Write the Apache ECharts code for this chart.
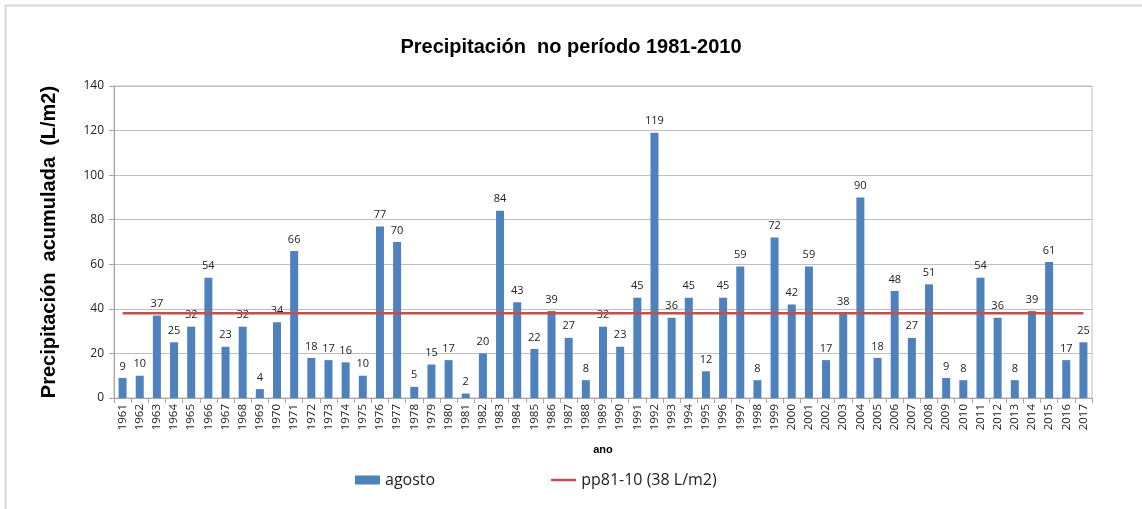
<!DOCTYPE html>
<html>
<head>
<meta charset="utf-8">
<script src="https://cdn.jsdelivr.net/npm/echarts@6/dist/echarts.min.js"></script>
<style>html,body{margin:0;padding:0;background:#fff}#c{width:1142px;height:509px}</style>
</head>
<body>
<div id="c"></div>
<script>
const years = ['1961','1962','1963','1964','1965','1966','1967','1968','1969','1970','1971','1972','1973','1974','1975','1976','1977','1978','1979','1980','1981','1982','1983','1984','1985','1986','1987','1988','1989','1990','1991','1992','1993','1994','1995','1996','1997','1998','1999','2000','2001','2002','2003','2004','2005','2006','2007','2008','2009','2010','2011','2012','2013','2014','2015','2016','2017'];
const agosto = [9,10,37,25,32,54,23,32,4,34,66,18,17,16,10,77,70,5,15,17,2,20,84,43,22,39,27,8,32,23,45,119,36,45,12,45,59,8,72,42,59,17,38,90,18,48,27,51,9,8,54,36,8,39,61,17,25];
const normalValue = 38;
const normal = years.map(() => normalValue);
const yTicks = [0,20,40,60,80,100,120,140];

const chart = echarts.init(document.getElementById('c'), null, {renderer:'canvas'});
const font = 'Liberation Sans, Arial, sans-serif';
chart.setOption({
  animation: false,
  backgroundColor: '#fff',
  textStyle: {fontFamily: font},
  graphic: [{
    type: 'rect', shape: {x: 5.5, y: 5.5, width: 1300, height: 700},
    style: {fill: 'none', stroke: '#D9D9D9', lineWidth: 2}, silent: true
  }],
  title: {
    text: 'Precipitación  no período 1981-2010',
    left: 'center', top: 32,
    textStyle: {fontSize: 20, fontWeight: 'bold', color: '#000', fontFamily: font}
  },
  legend: {
    left: 350, top: 467, itemGap: 116, itemWidth: 25, itemHeight: 9,
    symbolKeepAspect: true,
    textStyle: {fontSize: 16, color: '#222', fontFamily: 'Open Sans, sans-serif'},
    data: [{name: 'agosto', icon: 'rect'},
           {name: 'pp81-10 (38 L/m2)', icon: 'path://M0,0L25,0L25,2.5L0,2.5Z'}]
  },
  grid: {left: 114, right: 50, top: 86, bottom: 111, show: true, borderColor: '#BFBFBF', borderWidth: 1},
  xAxis: {
    type: 'category', data: years,
    name: 'ano', nameLocation: 'middle', nameGap: 46,
    nameTextStyle: {fontSize: 11, fontWeight: 'bold', color: '#000'},
    axisLine: {lineStyle: {color: '#A6A6A6'}},
    axisTick: {show: true, alignWithLabel: false, length: 5, lineStyle: {color: '#A6A6A6'}},
    axisLabel: {rotate: 90, fontSize: 11.5, color: '#222', margin: 6, interval: 0, fontFamily: 'Open Sans, sans-serif'}
  },
  yAxis: {
    type: 'value', min: 0, max: 140, interval: 20,
    name: 'Precipitación  acumulada  (L/m2)', nameLocation: 'middle', nameGap: 55, nameRotate: 90,
    nameTextStyle: {fontSize: 20, fontWeight: 'bold', color: '#000'},
    axisLine: {show: true, lineStyle: {color: '#A6A6A6'}},
    axisTick: {show: true, length: 5, lineStyle: {color: '#A6A6A6'}},
    axisLabel: {fontSize: 12, color: '#222', margin: 10, fontFamily: 'Open Sans, sans-serif',
      formatter: v => yTicks.includes(v) ? String(v) : ''},
    splitLine: {lineStyle: {color: '#BFBFBF'}}
  },
  series: [{
    name: 'agosto', type: 'bar', data: agosto, barWidth: 8,
    itemStyle: {color: '#4F81BD'},
    label: {show: true, position: 'top', distance: 6, fontSize: 11, color: '#222', fontFamily: 'Open Sans, sans-serif'},
    z: 2
  }, {
    name: 'pp81-10 (38 L/m2)', type: 'line', data: normal, symbol: 'none',
    lineStyle: {color: '#C0504D', width: 2.5}, itemStyle: {color: '#C0504D'},
    z: 3
  }]
});
</script>
</body>
</html>
